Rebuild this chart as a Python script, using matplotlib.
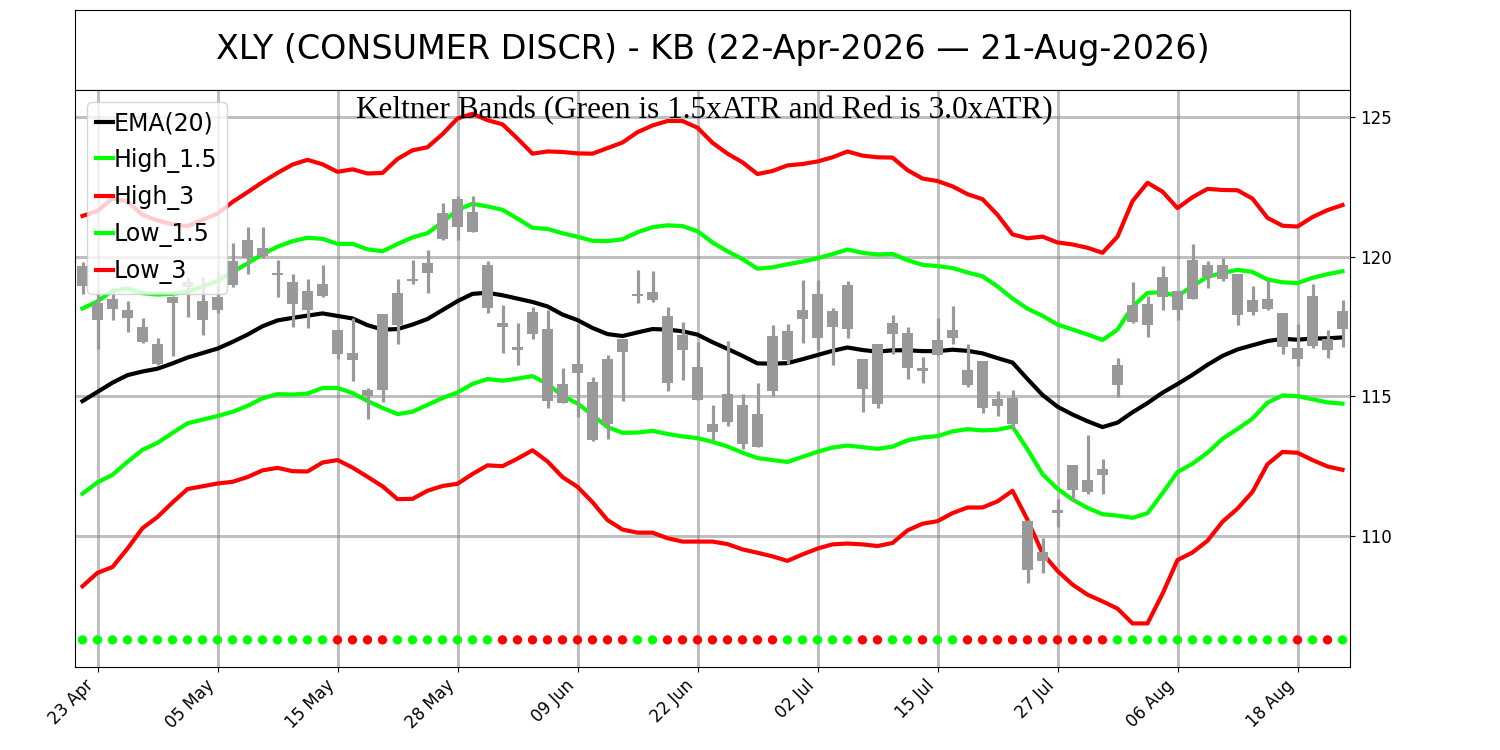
#!/usr/bin/env python
# -*- coding: utf-8 -*-

import numpy as np
import matplotlib
matplotlib.use('Agg')
import matplotlib.pyplot as plt

# Keltner bands for XLY, 22-Apr-2026 .. 21-Aug-2026 (85 trading days)
title = 'XLY (CONSUMER DISCR) - KB (22-Apr-2026 \u2014 21-Aug-2026)'
subtitle = 'Keltner Bands (Green is 1.5xATR and Red is 3.0xATR)'

tick_pos = [1, 9, 17, 25, 33, 41, 49, 57, 65, 73, 81]
tick_labels = ['23 Apr', '05 May', '15 May', '28 May', '09 Jun', '22 Jun',
               '02 Jul', '15 Jul', '27 Jul', '06 Aug', '18 Aug']

highs = [119.80, 118.80, 118.87, 118.42, 117.82, 117.10, 118.60, 119.27, 119.26, 119.50,
         120.50, 121.07, 121.08, 119.87, 119.37, 119.21, 119.69, 117.36, 117.82, 115.31,
         117.96, 119.21, 119.87, 120.23, 121.92, 122.19, 122.16, 119.84, 118.26, 117.62,
         118.20, 118.10, 116.03, 117.58, 115.69, 116.47, 117.06, 119.51, 119.49, 118.20,
         117.66, 116.94, 114.68, 116.98, 115.07, 115.47, 117.54, 117.58, 119.15, 119.18,
         118.17, 119.13, 116.35, 116.88, 117.90, 117.50, 116.41, 117.82, 118.22, 116.86,
         116.25, 115.19, 115.21, 110.58, 109.94, 111.34, 112.53, 113.60, 112.77, 116.38,
         119.09, 118.61, 119.65, 118.79, 120.44, 119.84, 119.96, 119.37, 118.94, 119.15,
         117.98, 117.58, 119.03, 117.39, 118.44]
lows = [118.68, 116.70, 117.72, 117.30, 116.90, 116.14, 116.43, 117.84, 117.18, 118.00,
        118.90, 119.37, 119.95, 118.55, 117.48, 117.46, 118.55, 116.35, 115.55, 114.20,
        114.79, 116.86, 119.01, 118.70, 120.61, 120.61, 120.88, 117.99, 116.55, 116.14,
        117.06, 114.59, 114.76, 114.26, 113.40, 113.48, 114.83, 118.34, 118.38, 115.19,
        115.57, 114.88, 113.45, 113.94, 113.13, 113.19, 115.03, 116.17, 116.91, 116.67,
        116.11, 117.10, 114.44, 114.59, 116.53, 115.63, 115.47, 116.47, 116.88, 115.33,
        114.40, 114.28, 113.84, 108.31, 108.67, 110.32, 111.25, 111.49, 111.49, 114.97,
        117.62, 117.12, 118.10, 117.74, 118.50, 118.89, 119.13, 117.54, 117.90, 118.08,
        116.53, 116.07, 116.74, 116.38, 116.76]
body_top = [119.65, 118.35, 118.48, 118.08, 117.48, 116.86, 118.55, 119.10, 118.42, 118.55,
            119.85, 120.60, 120.30, 119.42, 119.09, 118.76, 119.03, 117.36, 116.55, 115.21,
            117.96, 118.70, 119.21, 119.77, 121.58, 122.08, 121.60, 119.72, 117.62, 116.76,
            118.02, 117.42, 115.43, 116.17, 115.51, 116.35, 117.06, 118.68, 118.73, 117.86,
            117.18, 116.05, 114.02, 115.09, 114.68, 114.38, 117.15, 117.34, 118.10, 118.68,
            118.05, 118.97, 116.35, 116.88, 117.62, 117.26, 116.03, 117.03, 117.36, 115.93,
            116.25, 114.92, 114.95, 110.53, 109.42, 110.92, 112.53, 111.99, 112.41, 116.11,
            118.26, 118.29, 119.29, 118.77, 119.89, 119.72, 119.72, 119.37, 118.46, 118.50,
            117.98, 116.74, 118.61, 117.06, 118.05]
body_bot = [118.95, 117.72, 118.14, 117.79, 116.95, 116.17, 118.35, 118.90, 117.72, 118.08,
            119.00, 119.95, 120.03, 119.35, 118.32, 118.08, 118.61, 116.53, 116.29, 115.03,
            115.24, 117.54, 119.13, 119.41, 120.64, 121.06, 120.88, 118.17, 117.50, 116.65,
            117.24, 114.85, 114.76, 115.83, 113.42, 114.02, 116.58, 118.58, 118.44, 115.47,
            116.65, 114.88, 113.72, 114.08, 113.30, 113.19, 115.19, 116.29, 117.78, 117.10,
            117.50, 117.42, 115.27, 114.71, 117.22, 116.03, 115.90, 116.47, 117.10, 115.39,
            114.59, 114.64, 114.00, 108.77, 109.10, 110.82, 111.63, 111.57, 112.17, 115.39,
            117.66, 117.54, 118.55, 118.10, 118.50, 119.27, 119.21, 117.90, 118.02, 118.14,
            116.76, 116.35, 116.82, 116.67, 117.42]

ema20 = [114.83, 115.16, 115.49, 115.76, 115.89, 115.99, 116.18, 116.39, 116.55, 116.71,
         116.95, 117.21, 117.51, 117.72, 117.81, 117.89, 117.97, 117.88, 117.79, 117.55,
         117.39, 117.41, 117.57, 117.77, 118.09, 118.41, 118.67, 118.71, 118.62, 118.50,
         118.38, 118.22, 117.93, 117.73, 117.45, 117.23, 117.16, 117.29, 117.41, 117.39,
         117.33, 117.21, 116.94, 116.70, 116.45, 116.18, 116.17, 116.19, 116.33, 116.48,
         116.63, 116.75, 116.66, 116.60, 116.65, 116.65, 116.62, 116.62, 116.67, 116.63,
         116.54, 116.37, 116.21, 115.62, 115.05, 114.63, 114.35, 114.11, 113.90, 114.06,
         114.43, 114.76, 115.13, 115.44, 115.77, 116.13, 116.45, 116.68, 116.83, 116.98,
         117.06, 117.03, 117.07, 117.08, 117.11]
atr = [2.21, 2.16, 2.20, 2.07, 1.87, 1.77, 1.66, 1.57, 1.59, 1.61,
       1.67, 1.70, 1.72, 1.76, 1.83, 1.86, 1.78, 1.72, 1.78, 1.81,
       1.87, 2.03, 2.08, 2.05, 2.10, 2.18, 2.15, 2.06, 2.04, 1.91,
       1.77, 1.85, 1.94, 1.99, 2.08, 2.22, 2.31, 2.39, 2.43, 2.49,
       2.51, 2.47, 2.38, 2.33, 2.31, 2.26, 2.30, 2.36, 2.33, 2.31,
       2.31, 2.34, 2.32, 2.32, 2.30, 2.15, 2.06, 2.03, 1.95, 1.87,
       1.84, 1.71, 1.53, 1.68, 1.89, 1.96, 2.03, 2.07, 2.08, 2.22,
       2.52, 2.63, 2.40, 2.10, 2.12, 2.10, 1.98, 1.90, 1.75, 1.47,
       1.35, 1.35, 1.45, 1.53, 1.58]

# trend dots along the bottom: g = green, r = red
trend = ('ggggggggggggggggg' 'rrrr' 'ggggggg' 'rrrrrrrrr' 'gg' 'rrrrrrrr'
         'ggggg' 'rr' 'gg' 'r' 'gg' 'rrrrrrrrrr' 'gggggggggggg' 'r' 'g' 'r' 'g')
dot_level = 106.28


def main():
    n = len(ema20)
    x = np.arange(n)
    ema = np.array(ema20)
    a = np.array(atr)

    high_15 = ema + 1.5 * a
    high_3 = ema + 3.0 * a
    low_15 = ema - 1.5 * a
    low_3 = ema - 3.0 * a

    # green dot -> up candle, red -> down candle
    opens = [b if t == 'g' else tp for t, tp, b in zip(trend, body_top, body_bot)]
    closes = [tp if t == 'g' else b for t, tp, b in zip(trend, body_top, body_bot)]
    o = np.array(opens)
    c = np.array(closes)

    fig = plt.figure(figsize=(15, 7.5), dpi=100)

    # title box
    ax_t = fig.add_axes([0.05, 0.88, 0.85, 0.1067])
    ax_t.set_xticks([])
    ax_t.set_yticks([])
    ax_t.text(0.5, 0.5, title, ha='center', va='center', fontsize=24,
              transform=ax_t.transAxes)

    ax = fig.add_axes([0.05, 0.1107, 0.85, 0.7693])

    ax.plot(x, ema, color='black', linewidth=3, label='EMA(20)', zorder=2)
    ax.plot(x, high_15, color='lime', linewidth=3, label='High_1.5', zorder=2)
    ax.plot(x, high_3, color='red', linewidth=3, label='High_3', zorder=2)
    ax.plot(x, low_15, color='lime', linewidth=3, label='Low_1.5', zorder=2)
    ax.plot(x, low_3, color='red', linewidth=3, label='Low_3', zorder=2)

    # candles
    ax.vlines(x, lows, highs, color='#999999', linewidth=2.3, zorder=3)
    lo = np.minimum(o, c)
    hi = np.maximum(o, c)
    ax.bar(x, hi - lo, bottom=lo, width=0.68, color='#999999', zorder=3)

    dot_colors = ['#00ff00' if t == 'g' else '#ff0000' for t in trend]
    ax.scatter(x, np.full(n, dot_level), c=dot_colors, s=45, linewidths=0, zorder=3)

    ax.text(0.494, 0.99, subtitle, transform=ax.transAxes, ha='center', va='top',
            fontsize=22.5, family=['Liberation Serif', 'DejaVu Serif'])

    ax.set_xlim(-0.5, n - 0.5)
    ax.set_ylim(105.31, 125.97)
    ax.set_xticks(tick_pos)
    ax.set_xticklabels(tick_labels, rotation=45, ha='right', fontsize=12)
    ax.set_yticks([110, 115, 120, 125])
    ax.yaxis.tick_right()
    ax.tick_params(axis='y', labelsize=12)
    ax.grid(True, color='gray', alpha=0.5, linewidth=2.2)
    ax.set_axisbelow(True)

    ax.legend(loc='upper left', fontsize=17, handlelength=0.7, handletextpad=0.05,
              labelspacing=0.52)

    plt.savefig('out.png', dpi=100)


if __name__ == '__main__':
    main()
